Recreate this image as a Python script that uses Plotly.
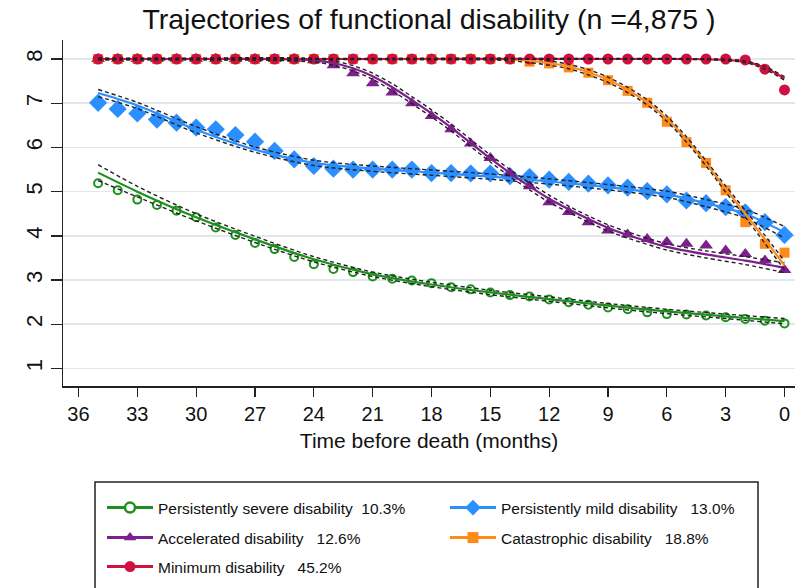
import plotly.graph_objects as go

# ---------------- data ----------------
months = [35, 34, 33, 32, 31, 30, 29, 28, 27, 26, 25, 24, 23, 22, 21, 20, 19, 18,
          17, 16, 15, 14, 13, 12, 11, 10, 9, 8, 7, 6, 5, 4, 3, 2, 1, 0]

severe_obs = [5.19, 5.03, 4.82, 4.70, 4.57, 4.42, 4.19, 4.02, 3.84, 3.70, 3.52, 3.36,
              3.25, 3.18, 3.08, 3.03, 2.99, 2.93, 2.84, 2.79, 2.72, 2.66, 2.63, 2.56,
              2.50, 2.44, 2.38, 2.34, 2.27, 2.23, 2.22, 2.20, 2.16, 2.12, 2.08, 2.02]
mild_obs = [7.01, 6.87, 6.77, 6.63, 6.56, 6.45, 6.41, 6.28, 6.13, 5.92, 5.73, 5.58,
            5.52, 5.50, 5.50, 5.50, 5.50, 5.42, 5.42, 5.41, 5.41, 5.35, 5.33, 5.27,
            5.22, 5.18, 5.14, 5.09, 5.01, 4.94, 4.80, 4.74, 4.65, 4.53, 4.31, 4.02]
accel_obs = [8.00, 8.00, 8.00, 8.00, 8.00, 8.00, 8.00, 8.00, 8.00, 8.00, 8.00, 7.97,
             7.86, 7.68, 7.45, 7.24, 7.00, 6.71, 6.41, 6.09, 5.76, 5.41, 5.12, 4.76,
             4.54, 4.31, 4.12, 4.03, 3.93, 3.86, 3.82, 3.78, 3.67, 3.59, 3.44, 3.23]
catas_obs = [8.00, 8.00, 8.00, 8.00, 8.00, 8.00, 8.00, 8.00, 8.00, 8.00, 8.00, 8.00,
             8.00, 8.00, 8.00, 8.00, 8.00, 8.00, 8.00, 8.00, 8.00, 8.00, 7.94, 7.90,
             7.81, 7.69, 7.52, 7.28, 7.01, 6.58, 6.12, 5.65, 5.03, 4.31, 3.82, 3.62]
minim_obs = [8.00, 8.00, 8.00, 8.00, 8.00, 8.00, 8.00, 8.00, 8.00, 8.00, 8.00, 8.00,
             8.00, 8.00, 8.00, 8.00, 8.00, 8.00, 8.00, 8.00, 8.00, 8.00, 8.00, 8.00,
             8.00, 8.00, 8.00, 8.00, 8.00, 8.00, 8.00, 8.00, 8.00, 7.98, 7.77, 7.30]

# fitted trajectories (month, value) and half-width of the dashed 95% bands
severe_fit_m = [35, 33, 30, 27, 24, 21, 18, 15, 12, 9, 6, 3, 0]
severe_fit = [5.43, 5.00, 4.42, 3.92, 3.47, 3.13, 2.90, 2.72, 2.57, 2.42, 2.29, 2.18, 2.07]
severe_hw = [0.18, 0.12, 0.08, 0.07, 0.06, 0.05, 0.05, 0.05, 0.05, 0.05, 0.05, 0.05, 0.06]

mild_fit_m = [35, 33, 30, 27, 24, 21, 18, 15, 12, 9, 6, 4, 2, 0]
mild_fit = [7.23, 6.95, 6.40, 5.95, 5.65, 5.52, 5.43, 5.34, 5.23, 5.10, 4.94, 4.74, 4.50, 4.08]
mild_hw = [0.08, 0.07, 0.07, 0.06, 0.06, 0.06, 0.06, 0.06, 0.06, 0.06, 0.07, 0.08, 0.10, 0.13]

accel_fit_m = [35, 30, 26, 24, 23, 22, 21, 20, 19, 18, 17, 16, 15, 14, 13, 12, 11, 10,
               9, 8, 6, 4, 2, 0]
accel_fit = [8.00, 8.00, 8.00, 7.97, 7.91, 7.79, 7.61, 7.36, 7.07, 6.77, 6.45, 6.10,
             5.75, 5.42, 5.12, 4.84, 4.60, 4.38, 4.18, 4.02, 3.75, 3.58, 3.44, 3.28]
accel_hw = [0.02, 0.02, 0.03, 0.04, 0.05, 0.06, 0.07, 0.08, 0.08, 0.08, 0.08, 0.08,
            0.08, 0.08, 0.08, 0.08, 0.07, 0.07, 0.07, 0.07, 0.07, 0.08, 0.09, 0.11]

catas_fit_m = [35, 20, 15, 14, 13, 12, 11, 10, 9, 8, 7, 6, 5, 4, 3, 2, 1, 0]
catas_fit = [8.00, 8.00, 8.00, 7.99, 7.96, 7.91, 7.83, 7.70, 7.53, 7.30, 7.02, 6.65,
             6.18, 5.64, 5.06, 4.50, 3.92, 3.33]
catas_hw = [0.01, 0.01, 0.02, 0.03, 0.04, 0.05, 0.05, 0.06, 0.06, 0.06, 0.06, 0.06,
            0.06, 0.06, 0.07, 0.08, 0.09, 0.10]

minim_fit_m = [35, 20, 5, 4, 3, 2, 1, 0]
minim_fit = [8.00, 8.00, 8.00, 7.995, 7.98, 7.94, 7.80, 7.56]
minim_hw = [0.01, 0.01, 0.01, 0.01, 0.015, 0.02, 0.03, 0.04]

group_names = ["Persistently severe disability  10.3%",
               "Persistently mild disability   13.0%",
               "Accelerated disability   12.6%",
               "Catastrophic disability   18.8%",
               "Minimum disability   45.2%"]

x_ticks = [36, 33, 30, 27, 24, 21, 18, 15, 12, 9, 6, 3, 0]
y_ticks = [1, 2, 3, 4, 5, 6, 7, 8]

# ---------------- styles ----------------
GREEN = "#1c8f1c"
BLUE = "#2b8fff"
PURPLE = "#7d1f8c"
ORANGE = "#ff8a1c"
RED = "#d01040"
FONT = "Liberation Sans, Arial, sans-serif"

groups = [
    dict(obs=severe_obs, fm=severe_fit_m, fit=severe_fit, hw=severe_hw, color=GREEN,
         marker=dict(symbol="circle-open", size=8, color=GREEN, line=dict(width=2, color=GREEN)),
         lmarker=dict(symbol="circle", size=10, color="white", line=dict(width=2.5, color=GREEN))),
    dict(obs=mild_obs, fm=mild_fit_m, fit=mild_fit, hw=mild_hw, color=BLUE,
         marker=dict(symbol="diamond", size=14, color=BLUE),
         lmarker=dict(symbol="diamond", size=12, color=BLUE)),
    dict(obs=accel_obs, fm=accel_fit_m, fit=accel_fit, hw=accel_hw, color=PURPLE,
         marker=dict(symbol="triangle-up", size=12, color=PURPLE),
         lmarker=dict(symbol="triangle-up", size=11, color=PURPLE)),
    dict(obs=catas_obs, fm=catas_fit_m, fit=catas_fit, hw=catas_hw, color=ORANGE,
         marker=dict(symbol="square", size=10, color=ORANGE),
         lmarker=dict(symbol="square", size=11, color=ORANGE)),
    dict(obs=minim_obs, fm=minim_fit_m, fit=minim_fit, hw=minim_hw, color=RED,
         marker=dict(symbol="circle", size=11, color=RED),
         lmarker=dict(symbol="circle", size=11, color=RED)),
]

fig = go.Figure()

# observed means
for g in groups:
    fig.add_trace(go.Scatter(x=months, y=g["obs"], mode="markers", marker=g["marker"],
                             showlegend=False, hoverinfo="skip"))

# fitted lines and confidence bands
for g in groups:
    upper = [v + h for v, h in zip(g["fit"], g["hw"])]
    lower = [v - h for v, h in zip(g["fit"], g["hw"])]
    fig.add_trace(go.Scatter(x=g["fm"], y=g["fit"], mode="lines",
                             line=dict(color=g["color"], width=2.2, shape="spline", smoothing=0.8),
                             showlegend=False, hoverinfo="skip"))
    for band in (upper, lower):
        fig.add_trace(go.Scatter(x=g["fm"], y=band, mode="lines",
                                 line=dict(color="#222222", width=1.4, dash="4px,3px",
                                           shape="spline", smoothing=0.8),
                                 showlegend=False, hoverinfo="skip"))

# legend entries: one legend per cell of the 2-column key
L_LEFT, L_RIGHT, L_TOP, L_BOT = 63, 795, 40, 386
def py(Y):
    return (L_BOT - Y) / (L_BOT - L_TOP)
def px(X):
    return (X - L_LEFT) / (L_RIGHT - L_LEFT)

cells = [(102, 508), (445, 508), (102, 538), (445, 538), (102, 567)]
legend_ids = ["legend", "legend2", "legend3", "legend4", "legend5"]

legend_layouts = {}
for g, name, lid, (cx, cy) in zip(groups, group_names, legend_ids, cells):
    fig.add_trace(go.Scatter(x=[None], y=[None], mode="lines+markers", name=name,
                             line=dict(color=g["color"], width=3), marker=g["lmarker"],
                             legend=lid))
    legend_layouts[lid] = dict(orientation="v", xanchor="left", yanchor="middle",
                               x=px(cx), y=py(cy),
                               font=dict(family=FONT, size=15.5, color="#111111"),
                               bgcolor="rgba(0,0,0,0)", borderwidth=0, itemwidth=46,
                               itemclick=False, itemdoubleclick=False)

fig.update_layout(
    width=795, height=588,
    margin=dict(l=L_LEFT, r=795 - L_RIGHT, t=L_TOP, b=588 - L_BOT, autoexpand=False),
    paper_bgcolor="white", plot_bgcolor="white",
    font=dict(family=FONT, color="#111111"),
    title=dict(text="Trajectories of functional disability (n =4,875 )",
               font=dict(family=FONT, size=28.5, color="#111111"),
               x=0.5, xref="paper", xanchor="center",
               y=1 - 19 / 588, yref="container", yanchor="middle"),
    xaxis=dict(range=[36.79, -0.535], tickvals=x_ticks, ticktext=[str(t) for t in x_ticks],
               showgrid=False, zeroline=False, showline=True, linecolor="#222222",
               linewidth=1.5, ticks="outside", ticklen=9, tickwidth=1.3, tickcolor="#222222",
               ticklabeloverflow="allow", automargin=False,
               tickfont=dict(family=FONT, size=20, color="#111111"),
               title=dict(text="Time before death (months)", standoff=10,
                          font=dict(family=FONT, size=21, color="#111111"))),
    yaxis=dict(range=[0.604, 8.43], tickvals=y_ticks, ticktext=[str(t) for t in y_ticks],
               showgrid=True, gridcolor="#e1e8ec", gridwidth=1.6, zeroline=False,
               showline=True, linecolor="#222222", linewidth=1.5, ticks="outside",
               ticklen=11, tickwidth=1.3, tickcolor="#222222", tickangle=-90,
               automargin=False,
               tickfont=dict(family=FONT, size=22, color="#111111")),
    shapes=[dict(type="rect", xref="paper", yref="paper",
                 x0=px(95), x1=px(758), y0=py(600), y1=py(482),
                 line=dict(color="#222222", width=1.5), fillcolor="rgba(0,0,0,0)",
                 layer="below")],
    **legend_layouts,
)

# remove the browser's default page margin so the 795x588 figure fills the window exactly
fig.write_html("out.html",
               config={"displayModeBar": False, "staticPlot": True},
               post_script="document.body.style.margin='0';document.body.style.overflow='hidden';")
